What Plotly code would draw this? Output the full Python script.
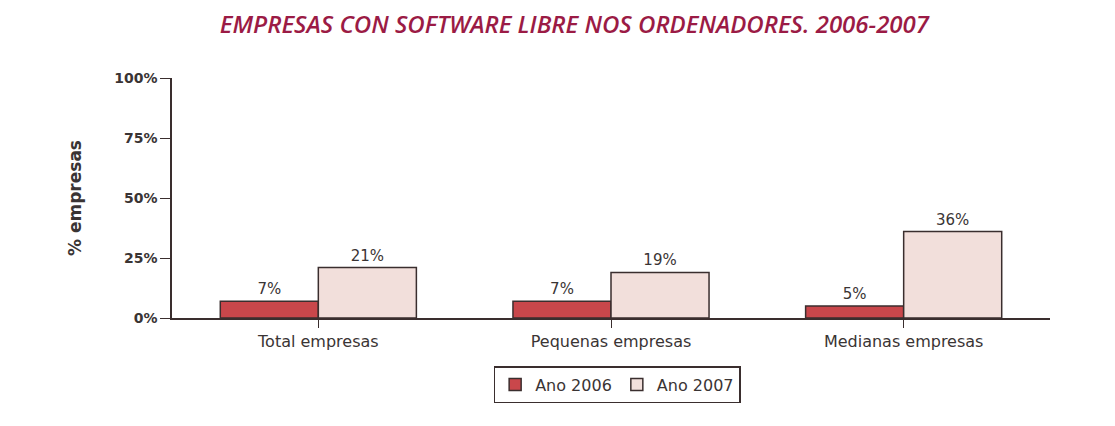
import plotly.graph_objects as go

categories = ["Total empresas", "Pequenas empresas", "Medianas empresas"]
ano_2006 = [7, 7, 5]
ano_2007 = [21, 19, 36]
series_names = ["Ano 2006", "Ano 2007"]
tick_vals = [0, 25, 50, 75, 100]
tick_text = ["0%", "25%", "50%", "75%", "100%"]

line_col = "#3a2e2e"
txt_col = "#3a3434"
fam = "DejaVu Sans"
fig = go.Figure()
fig.add_trace(go.Bar(
    x=categories, y=ano_2006, name=series_names[0],
    marker=dict(color="#c9474b", line=dict(color=line_col, width=1.5)),
    text=[f"{v}%" for v in ano_2006], textposition="outside",
    textfont=dict(size=15, color=txt_col, family=fam),
    cliponaxis=False,
))
fig.add_trace(go.Bar(
    x=categories, y=ano_2007, name=series_names[1],
    marker=dict(color="#f2dfdb", line=dict(color=line_col, width=1.5)),
    text=[f"{v}%" for v in ano_2007], textposition="outside",
    textfont=dict(size=15, color=txt_col, family=fam),
    cliponaxis=False,
))

fig.update_layout(
    width=1115, height=426,
    paper_bgcolor="white", plot_bgcolor="white",
    margin=dict(l=164, r=73, t=70, b=116),
    barmode="group", bargap=0.33, bargroupgap=0,
    font=dict(family=fam, size=13, color=txt_col),
    title=dict(
        text="<i>EMPRESAS CON SOFTWARE LIBRE NOS ORDENADORES. 2006-2007</i>",
        x=0.508, xref="container", xanchor="center",
        y=0.962, yref="container", yanchor="middle",
        font=dict(family="Open Sans", size=24, color="#9b1b45", weight=600),
    ),
    xaxis=dict(
        range=[-0.5, 2.5], showline=True, linecolor=line_col, linewidth=1.5,
        ticks="outside", ticklen=8, tickcolor=line_col, tickwidth=1.2,
        tickfont=dict(size=16, color=txt_col, family=fam), showgrid=False,
    ),
    yaxis=dict(
        range=[0, 100], tickvals=tick_vals, ticktext=tick_text,
        showline=True, linecolor=line_col, linewidth=1.5,
        ticks="outside", ticklen=10, tickcolor=line_col, tickwidth=1.2,
        tickfont=dict(size=14, color=txt_col, family=fam, weight="bold"),
        showgrid=False, zeroline=False,
        title=dict(text="<b>% empresas</b>", font=dict(size=17, color=txt_col, family=fam), standoff=28),
    ),
    legend=dict(
        orientation="h", x=0.507, xanchor="center", y=-0.2, yanchor="top",
        bordercolor=line_col, borderwidth=1.5, bgcolor="white",
        font=dict(size=16, color=txt_col, family=fam), itemwidth=30,
        traceorder="normal",
    ),
    showlegend=True,
)

fig.write_html("out.html")
